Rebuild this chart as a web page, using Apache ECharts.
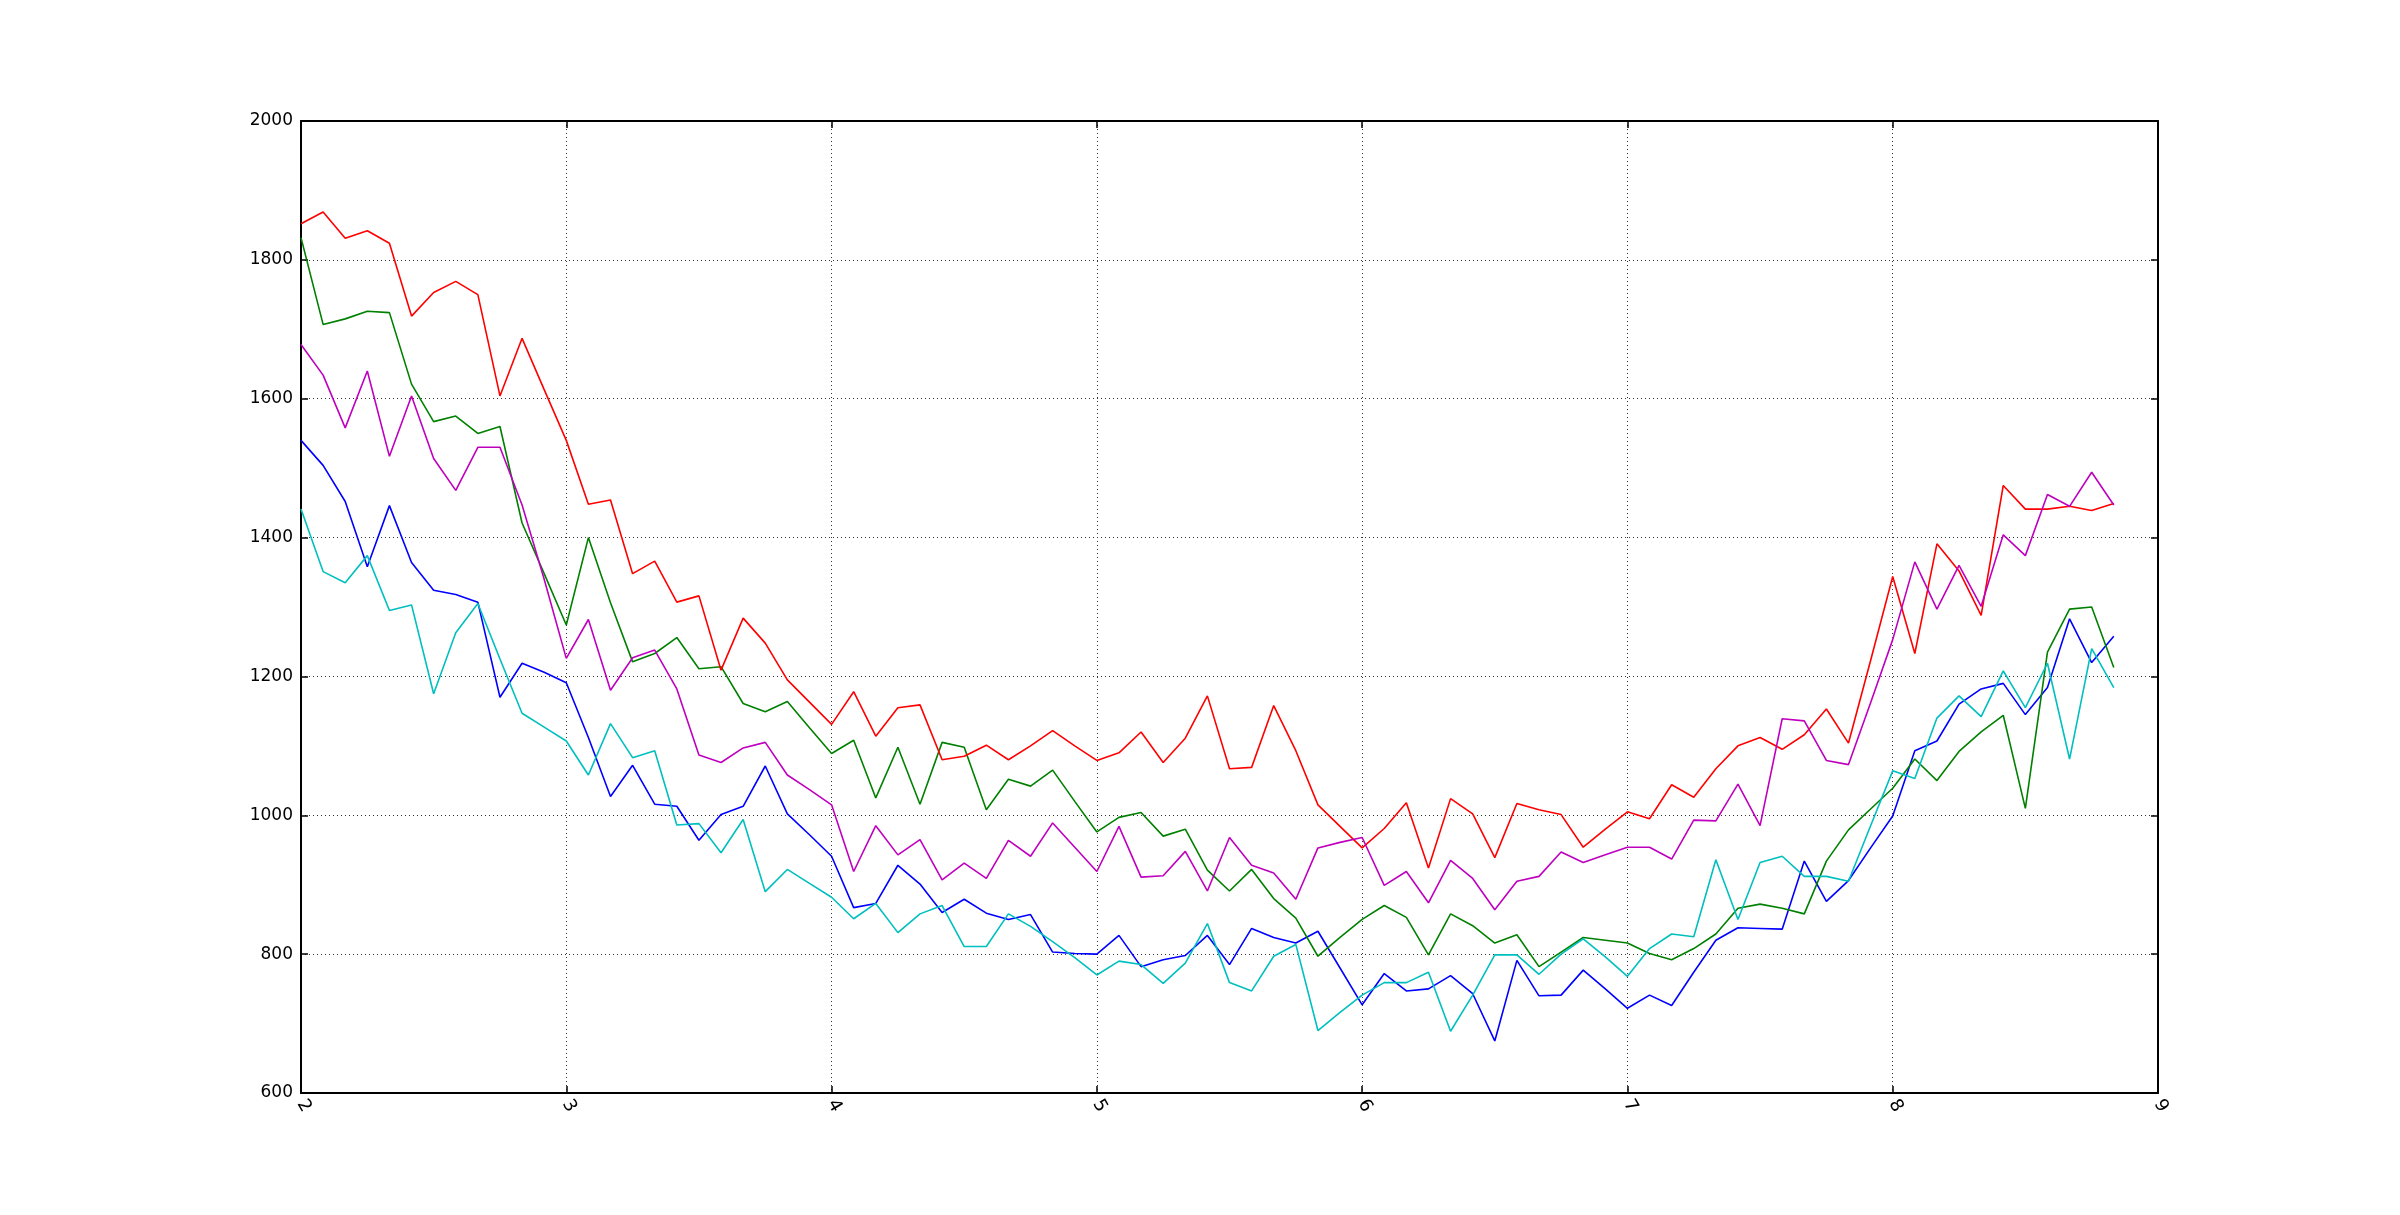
<!DOCTYPE html>
<html>
<head>
<meta charset="utf-8">
<script src="https://cdn.jsdelivr.net/npm/echarts@6/dist/echarts.min.js"></script>
<style>
html,body{margin:0;padding:0;background:#fff;}
#chart{width:2400px;height:1215px;}
</style>
</head>
<body>
<div id="chart"></div>
<script>
// x positions: monthly steps starting at 2
const xStart = 2;
const xStepsPerUnit = 12;
const xTicks = [2, 3, 4, 5, 6, 7, 8, 9];
const yTicks = [600, 800, 1000, 1200, 1400, 1600, 1800, 2000];

const blueVals = [1540,1504,1452,1358,1446,1364,1324,1318,1307,1170,
  1219,1206,1191,1112,1027,1072,1016,1013,964,1001,
  1013,1071,1002,972,941,867,873,928,901,860,
  879,859,850,857,803,801,800,827,782,792,
  798,827,785,837,824,816,833,780,727,772,
  747,750,769,743,675,791,740,741,777,750,
  722,741,726,774,820,838,837,836,934,876,
  906,953,999,1093,1107,1160,1182,1190,1145,1184,
  1283,1220,1258];

const greenVals = [1832,1707,1715,1726,1724,1621,1567,1575,1550,1560,
  1421,1348,1274,1400,1306,1221,1233,1256,1211,1214,
  1161,1149,1164,1126,1089,1108,1025,1098,1016,1105,
  1098,1008,1052,1042,1065,1020,976,997,1004,970,
  980,921,891,922,880,852,797,824,850,870,
  853,799,858,841,816,828,782,803,824,820,
  816,801,792,808,829,866,872,866,858,934,
  979,1009,1039,1081,1050,1092,1120,1144,1010,1235,
  1297,1300,1213];

const redVals = [1852,1869,1831,1842,1824,1719,1753,1769,1750,1604,
  1687,1613,1540,1448,1454,1348,1366,1307,1316,1209,
  1284,1248,1195,1163,1131,1178,1114,1155,1159,1080,
  1085,1101,1080,1100,1122,1100,1079,1090,1120,1076,
  1111,1172,1067,1069,1158,1093,1015,984,953,981,
  1018,924,1024,1002,939,1017,1008,1001,954,980,
  1005,995,1044,1026,1067,1100,1112,1095,1116,1153,
  1104,1223,1344,1233,1391,1352,1288,1475,1441,1441,
  1445,1439,1449];

const cyanVals = [1441,1351,1335,1374,1295,1303,1175,1263,1305,1225,
  1147,1127,1107,1058,1132,1083,1093,986,988,946,
  994,890,922,902,882,851,873,831,858,870,
  811,811,858,840,818,795,770,790,785,758,
  787,844,759,747,797,814,690,716,741,759,
  759,774,689,741,799,799,771,800,822,796,
  768,808,829,825,936,850,932,941,912,912,
  905,985,1064,1053,1140,1172,1142,1208,1155,1219,
  1081,1240,1184];

const magentaVals = [1678,1634,1558,1640,1517,1604,1514,1468,1530,1530,
  1447,1340,1226,1282,1180,1227,1238,1182,1087,1076,
  1097,1105,1058,1037,1015,919,985,943,965,907,
  931,909,964,941,989,954,919,984,911,913,
  948,891,968,928,917,879,953,961,968,899,
  919,874,935,909,864,905,912,947,932,943,
  954,954,937,993,992,1045,985,1139,1136,1079,
  1073,1162,1253,1365,1297,1360,1301,1404,1374,1462,
  1445,1494,1447];

const seriesDefs = [
  {name: 'b', color: '#0000ff', vals: blueVals},
  {name: 'g', color: '#008000', vals: greenVals},
  {name: 'r', color: '#ff0000', vals: redVals},
  {name: 'c', color: '#00bfbf', vals: cyanVals},
  {name: 'm', color: '#bf00bf', vals: magentaVals}
];

function toPairs(vals) {
  return vals.map((v, i) => [xStart + i / xStepsPerUnit, v]);
}

const FONT = 'DejaVu Sans';
const xMin = xTicks[0], xMax = xTicks[xTicks.length - 1];
const yMin = yTicks[0], yMax = yTicks[yTicks.length - 1];
const axisLineStyle = {show: true, onZero: false, lineStyle: {color: '#000', width: 2}};
const tickStyle = {show: true, inside: true, length: 7, lineStyle: {color: '#000', width: 1.5}};
const gridLine = {show: true, lineStyle: {color: '#333', width: 1, type: [1, 3]}};

const chart = echarts.init(document.getElementById('chart'), null, {renderer: 'canvas'});
chart.setOption({
  animation: false,
  backgroundColor: '#ffffff',
  grid: {left: 301, right: 242, top: 121, bottom: 122, containLabel: false},
  xAxis: [
    {
      type: 'value', min: xMin, max: xMax, interval: 1, position: 'bottom',
      axisLine: axisLineStyle, axisTick: tickStyle, splitLine: gridLine,
      axisLabel: {color: '#000', fontSize: 18, fontFamily: FONT, rotate: -60, margin: 8,
                  formatter: v => String(v)}
    },
    {
      type: 'value', min: xMin, max: xMax, interval: 1, position: 'top',
      axisLine: axisLineStyle, axisTick: tickStyle, splitLine: {show: false},
      axisLabel: {show: false}
    }
  ],
  yAxis: [
    {
      type: 'value', min: yMin, max: yMax, interval: 200, position: 'left',
      axisLine: axisLineStyle, axisTick: tickStyle, splitLine: gridLine,
      axisLabel: {color: '#000', fontSize: 17, fontFamily: FONT, margin: 8,
                  formatter: v => String(v)}
    },
    {
      type: 'value', min: yMin, max: yMax, interval: 200, position: 'right',
      axisLine: axisLineStyle, axisTick: tickStyle, splitLine: {show: false},
      axisLabel: {show: false}
    }
  ],
  series: seriesDefs.map(s => ({
    name: s.name,
    type: 'line',
    xAxisIndex: 0,
    yAxisIndex: 0,
    showSymbol: false,
    symbol: 'none',
    lineStyle: {color: s.color, width: 1.6},
    itemStyle: {color: s.color},
    data: toPairs(s.vals)
  }))
});
</script>
</body>
</html>
